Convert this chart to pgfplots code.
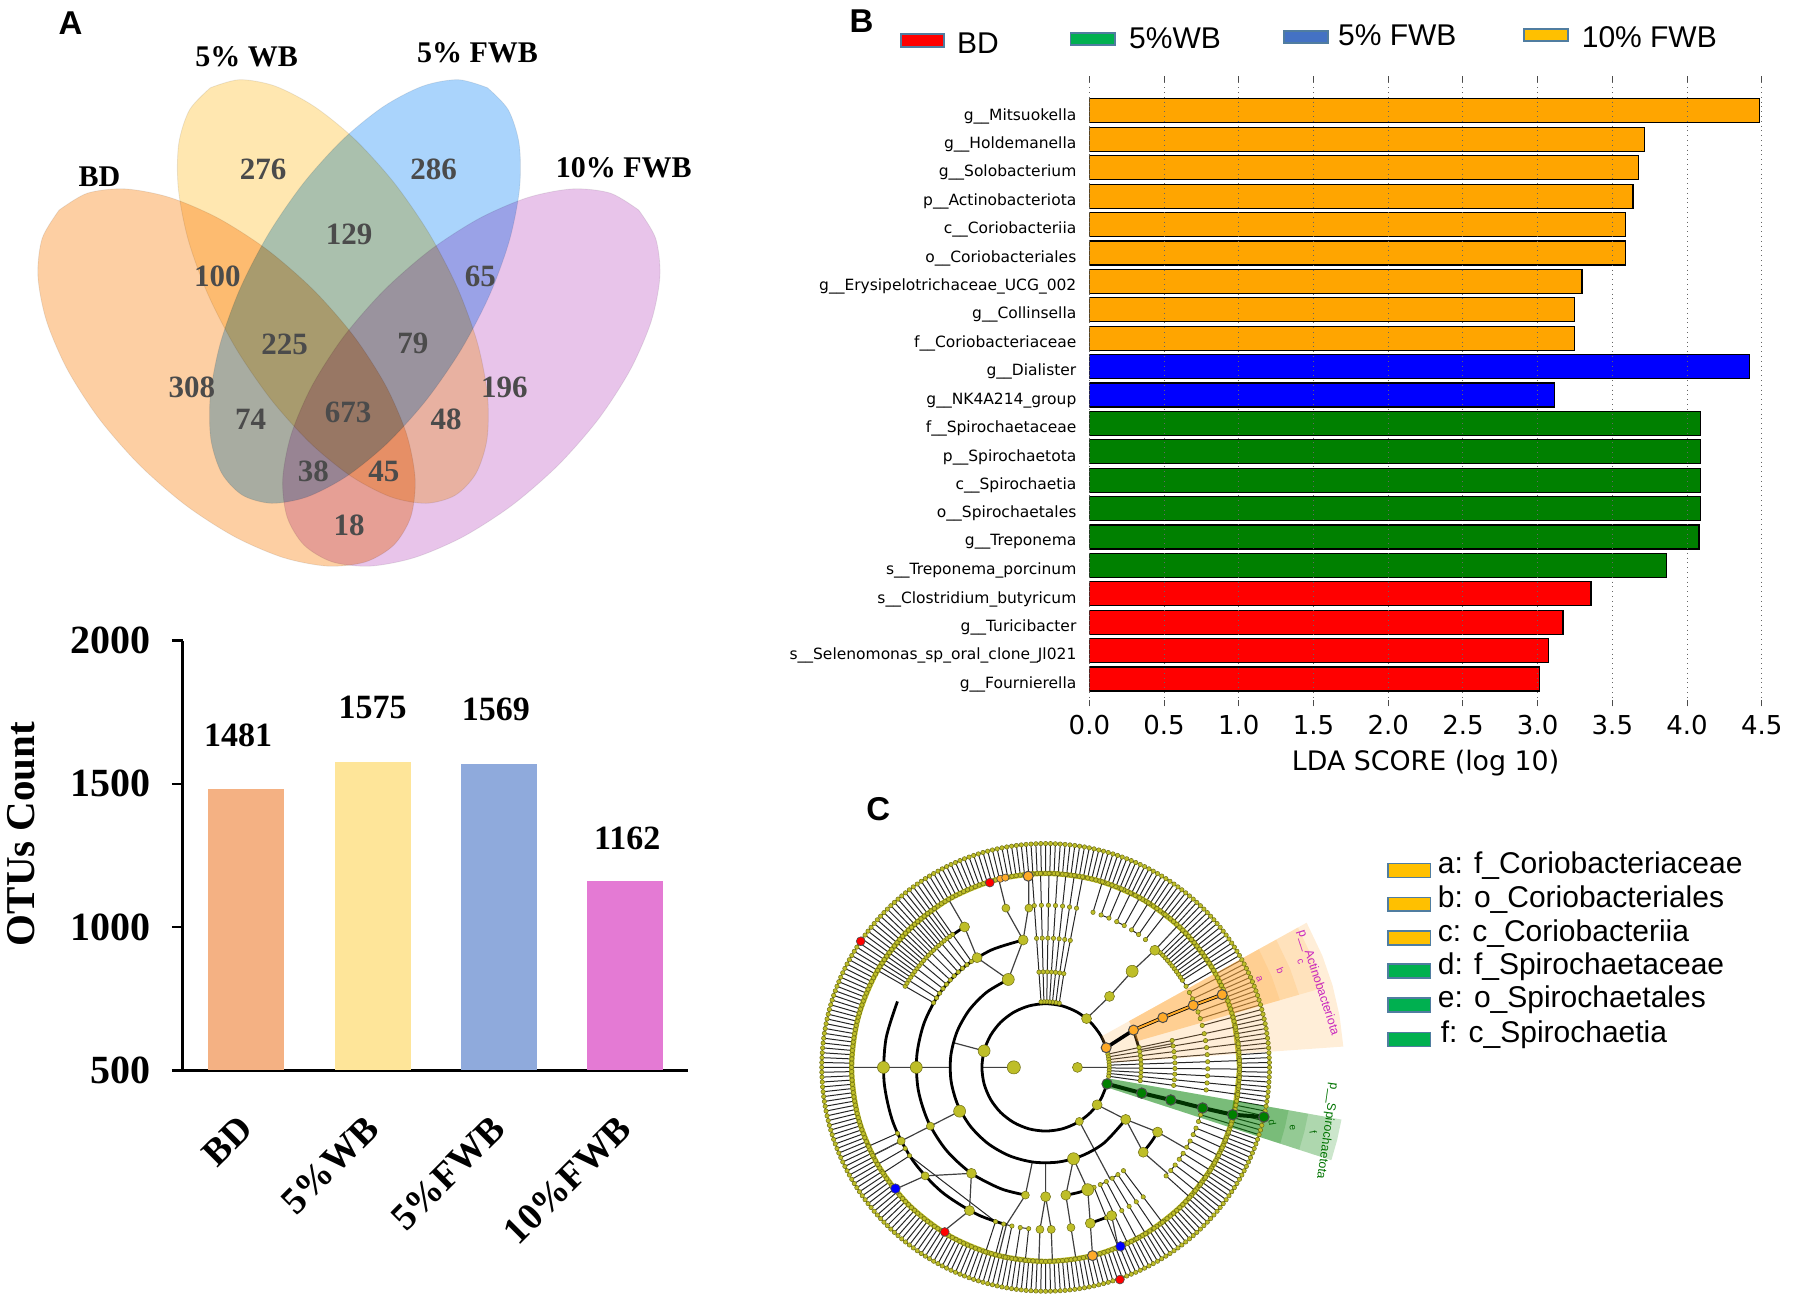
\documentclass[border=0pt]{standalone}
\usepackage{fontspec}
\usepackage{pgfplots}
\usepackage{pgfplotstable}
\pgfplotsset{compat=1.18}
\setmainfont{Liberation Sans}
\newfontfamily\timesf{Liberation Serif}
\newfontfamily\dejavu{DejaVu Sans}
\newcommand\sz[1]{\fontsize{#1}{#1}\selectfont}

\definecolor{vbd}{RGB}{253,207,163}
\definecolor{vwb}{RGB}{255,231,176}
\definecolor{vfwb}{RGB}{170,212,252}
\definecolor{vten}{RGB}{232,196,234}
\definecolor{vnum}{RGB}{75,75,75}
\definecolor{barbd}{RGB}{244,177,131}
\definecolor{barwb}{RGB}{254,229,153}
\definecolor{barfwb}{RGB}{143,170,220}
\definecolor{barten}{RGB}{228,122,212}
\definecolor{ldao}{RGB}{255,165,0}
\definecolor{ldab}{RGB}{0,0,255}
\definecolor{ldag}{RGB}{0,128,0}
\definecolor{ldar}{RGB}{255,0,0}
\definecolor{legy}{RGB}{255,192,0}
\definecolor{legg}{RGB}{0,176,80}
\definecolor{legblue}{RGB}{68,114,196}
\definecolor{legb}{RGB}{80,125,160}
\definecolor{leaf}{RGB}{190,190,40}
\definecolor{leafd}{RGB}{110,110,20}
\definecolor{wedge}{RGB}{255,170,60}
\definecolor{hlor}{RGB}{255,170,40}
\definecolor{cladem}{RGB}{200,40,190}

% outlines of the two petal shapes
\pgfplotstableread{
x y
211.5 88.2
240.8 80.1
276.4 86.5
316 107.1
356.8 140.2
396.2 183.8
431.4 234.8
460 289.8
480 345
490 396.7
489.6 441.3
478.6 475.7
457.7 497.8
428.4 505.9
392.8 499.5
353.2 478.9
312.4 445.8
273 402.2
237.8 351.2
209.2 296.2
189.2 241
179.2 189.3
179.6 144.7
190.6 110.3
211.5 88.2
}\innerpetal
\pgfplotstableread{
x y
59.4 211.2
87.8 194.2
125.8 189.9
170.7 198.5
219.4 219.4
268.8 251.2
315.4 291.8
356 338.4
387.8 387.8
408.7 436.5
417.3 481.4
413 519.4
396 547.8
367.6 564.8
329.6 569.1
284.7 560.5
236 539.6
186.6 507.8
140 467.2
99.4 420.6
67.6 371.2
46.7 322.5
38.1 277.6
42.4 239.6
59.4 211.2
}\outerpetal

\newcommand\swatch[6]{\addplot[fill=#1,draw=#2,line width=.8pt] coordinates {(#3,#4)(#5,#4)(#5,#6)(#3,#6)} --cycle;}

\begin{document}
\begin{tikzpicture}
\useasboundingbox (0,0) rectangle (897pt,649.5pt);

% page-sized axis: venn, legends, panel letters
\begin{axis}[at={(0,0)},anchor=south west,scale only axis,width=897pt,height=649.5pt,
  xmin=0,xmax=1803.4,ymin=0,ymax=1305.8,y dir=reverse,hide axis,clip=false]
\addplot[fill=vbd,draw=black!8,line width=.4pt,smooth,blend mode=multiply] table[x=x,y=y] {\outerpetal};
\addplot[fill=vwb,draw=black!8,line width=.4pt,smooth,blend mode=multiply] table[x=x,y=y] {\innerpetal};
\addplot[fill=vfwb,draw=black!8,line width=.4pt,smooth,blend mode=multiply] table[x expr=701.5-\thisrow{x},y=y] {\innerpetal};
\addplot[fill=vten,draw=black!8,line width=.4pt,smooth,blend mode=multiply] table[x expr=701.5-\thisrow{x},y=y] {\outerpetal};

\foreach \n/\x/\y in {276/264.5/170,286/436/170,129/351/236,100/218.5/278,65/483/278,225/286/346,79/415/345,308/193/389,196/507/389,74/252/422,673/350/415,48/448.5/422,38/315/474,45/386/474,18/351/528}{
  \edef\tmp{\noexpand\node[text=vnum,font=\noexpand\timesf\noexpand\bfseries\noexpand\sz{15.5}] at (axis cs:\x,\y) {\n};}\tmp
}
\node[font=\timesf\bfseries\sz{15}] at (axis cs:100,178) {BD};
\node[font=\timesf\bfseries\sz{15}] at (axis cs:248,57) {5\% WB};
\node[font=\timesf\bfseries\sz{15}] at (axis cs:480,53) {5\% FWB};
\node[font=\timesf\bfseries\sz{15}] at (axis cs:627,169) {10\% FWB};

\node[font=\bfseries\sz{16.5}] at (axis cs:71,23) {A};
\node[font=\bfseries\sz{16.5}] at (axis cs:866,21) {B};
\node[font=\bfseries\sz{16.5}] at (axis cs:883,813) {C};

\swatch{ldar}{legb}{906}{34}{949}{47}
\swatch{legg}{legb}{1076}{33}{1121}{45}
\swatch{legblue}{legb}{1291}{31}{1335}{43}
\swatch{legy}{legb}{1532}{29}{1576}{41}
\node[anchor=west,font=\sz{15}] at (axis cs:955,43) {BD};
\node[anchor=west,font=\sz{15}] at (axis cs:1128,38) {5\%WB};
\node[anchor=west,font=\sz{15}] at (axis cs:1338,35) {5\% FWB};
\node[anchor=west,font=\sz{15}] at (axis cs:1583,37) {10\% FWB};

\swatch{legy}{legb}{1395}{868}{1438}{882}
\swatch{legy}{legb}{1395}{902}{1438}{916}
\swatch{legy}{legb}{1395}{936}{1438}{950}
\swatch{legg}{legb}{1395}{969}{1438}{983}
\swatch{legg}{legb}{1395}{1003}{1438}{1017}
\swatch{legg}{legb}{1395}{1038}{1438}{1052}
\node[anchor=west,inner sep=0pt,font=\sz{15}] at (axis cs:1445,870) {a: f\_Coriobacteriaceae};
\node[anchor=west,inner sep=0pt,font=\sz{15}] at (axis cs:1445,904) {b: o\_Coriobacteriales};
\node[anchor=west,inner sep=0pt,font=\sz{15}] at (axis cs:1445,938) {c: c\_Coriobacteriia};
\node[anchor=west,inner sep=0pt,font=\sz{15}] at (axis cs:1445,972) {d: f\_Spirochaetaceae};
\node[anchor=west,inner sep=0pt,font=\sz{15}] at (axis cs:1445,1005) {e: o\_Spirochaetales};
\node[anchor=west,inner sep=0pt,font=\sz{15}] at (axis cs:1448,1040) {f: c\_Spirochaetia};
\end{axis}

% OTU count bars
\begin{axis}[at={(91.5pt,114.3pt)},anchor=south west,scale only axis,width=252.7pt,height=214.9pt,
  xmin=-0.5,xmax=3.5,ymin=500,ymax=2000,
  axis lines=left,axis line style={-,line width=1.5pt},
  ybar,bar width=38pt,bar shift=0pt,
  xtick={0,1,2,3},xticklabels={BD,5\%WB,5\%FWB,10\%FWB},
  ytick={500,1000,1500,2000},
  /pgf/number format/assume math mode=true,/pgf/number format/1000 sep={},
  tick align=outside,major tick length=5.5pt,
  ytick style={line width=1.2pt,black},xtick style={draw=none},
  yticklabel style={xshift=-7pt,font=\timesf\bfseries\sz{20}},
  xticklabel style={rotate=45,anchor=north east,yshift=-4.5pt,xshift=-11pt,font=\timesf\bfseries\sz{19}},
  ylabel={OTUs Count},
  ylabel style={at={(axis description cs:-0.32,0.55)},anchor=center,font=\timesf\bfseries\sz{20.5}},
  nodes near coords,
  every node near coord/.append style={font=\timesf\bfseries\sz{17}},
  point meta=explicit symbolic]
\addplot[fill=barbd,draw=none,every node near coord/.append style={xshift=-4pt,yshift=17.5pt}] coordinates {(0,1481)[1481]};
\addplot[fill=barwb,draw=none,every node near coord/.append style={yshift=18pt}] coordinates {(1,1575)[1575]};
\addplot[fill=barfwb,draw=none,every node near coord/.append style={xshift=-1.5pt,yshift=18pt}] coordinates {(2,1569)[1569]};
\addplot[fill=barten,draw=none,every node near coord/.append style={xshift=1pt,yshift=12pt}] coordinates {(3,1162)[1162]};
\end{axis}

% LDA scores
\begin{axis}[at={(544.7pt,299.35pt)},anchor=south west,scale only axis,width=336.2pt,height=308.9pt,
  xmin=0,xmax=4.5,ymin=0,ymax=21.75,y dir=reverse,
  xbar,bar width=12pt,bar shift=0pt,
  axis line style={draw=none},axis on top,
  xtick={0,0.5,...,4.5},
  xticklabels={0.0,0.5,1.0,1.5,2.0,2.5,3.0,3.5,4.0,4.5},
  ytick={1,...,21},
  yticklabels={g\_\_Mitsuokella,g\_\_Holdemanella,g\_\_Solobacterium,p\_\_Actinobacteriota,c\_\_Coriobacteriia,o\_\_Coriobacteriales,g\_\_Erysipelotrichaceae\_UCG\_002,g\_\_Collinsella,f\_\_Coriobacteriaceae,g\_\_Dialister,g\_\_NK4A214\_group,f\_\_Spirochaetaceae,p\_\_Spirochaetota,c\_\_Spirochaetia,o\_\_Spirochaetales,g\_\_Treponema,s\_\_Treponema\_porcinum,s\_\_Clostridium\_butyricum,g\_\_Turicibacter,s\_\_Selenomonas\_sp\_oral\_clone\_Jl021,g\_\_Fournierella},
  xmajorgrids,grid style={dotted,black!60,line width=.5pt},
  xtick pos=both,tick align=outside,major tick length=3pt,
  ytick style={draw=none},xtick style={black!70,line width=.5pt},
  xticklabel pos=bottom,
  yticklabel style={font=\dejavu\sz{7.75},yshift=-2.6pt},
  xticklabel style={font=\dejavu\sz{13},yshift=-1pt},
  /pgf/number format/assume math mode=true,
  xlabel={LDA SCORE (log 10)},
  xlabel style={font=\dejavu\sz{13.4},yshift=-.5pt}]
\addplot[fill=ldao,draw=black,line width=.6pt] coordinates {(4.483,1)(3.716,2)(3.677,3)(3.638,4)(3.586,5)(3.586,6)(3.296,7)(3.248,8)(3.248,9)};
\addplot[fill=ldab,draw=black,line width=.6pt] coordinates {(4.418,10)(3.114,11)};
\addplot[fill=ldag,draw=black,line width=.6pt] coordinates {(4.089,12)(4.089,13)(4.089,14)(4.089,15)(4.08,16)(3.863,17)};
\addplot[fill=ldar,draw=black,line width=.6pt] coordinates {(3.357,18)(3.17,19)(3.07,20)(3.014,21)};
\end{axis}

% cladogram, polar data: angle in degrees, radius
\begin{axis}[at={(522.8pt,115.8pt)},anchor=center,scale only axis,width=348.2pt,height=348.2pt,
  xmin=-350,xmax=350,ymin=-350,ymax=350,hide axis,clip=false,data cs=polar,
  leafline/.style={black!85,line width=.5pt,mark=*,mark size=1.1pt,mark options={solid,fill=leaf,draw=leafd,line width=.25pt}},
  branch/.style={black!75,line width=.6pt},
  arc/.style={black,line width=1.4pt,smooth},
  bignode/.style={only marks,mark=*,mark options={fill=leaf,draw=leafd,line width=.25pt}}]

% outer spokes
\addplot[leafline] coordinates {
(0,195)(0,225)(2.5,225)(2.5,195)(5,195)(5,225)(7.5,225)(7.5,195)(10,195)(10,225)(12.5,225)(12.5,195)
(15,195)(15,225)(17.5,225)(17.5,195)(20,195)(20,225)(22.5,225)(22.5,195)(25,195)(25,225)(27.5,225)(27.5,195)
(30,195)(30,225)(32.5,225)(32.5,195)(35,195)(35,225)(37.5,225)(37.5,195)(40,195)(40,225)(42.5,225)(42.5,195)
(45,195)(45,225)(47.5,225)(47.5,195)(50,195)(50,225)(52.5,225)(52.5,195)(55,195)(55,225)(57.5,225)(57.5,195)
(60,195)(60,225)(62.5,225)(62.5,195)(65,195)(65,225)(67.5,225)(67.5,195)(70,195)(70,225)(72.5,225)(72.5,195)
(75,195)(75,225)(77.5,225)(77.5,195)(80,195)(80,225)(82.5,225)(82.5,195)(85,195)(85,225)(87.5,225)(87.5,195)
(90,195)(90,225)(92.5,225)(92.5,195)(95,195)(95,225)(97.5,225)(97.5,195)(100,195)(100,225)(102.5,225)(102.5,195)
(105,195)(105,225)(107.5,225)(107.5,195)(110,195)(110,225)(112.5,225)(112.5,195)(115,195)(115,225)(117.5,225)(117.5,195)
(120,195)(120,225)(122.5,225)(122.5,195)(125,195)(125,225)(127.5,225)(127.5,195)(130,195)(130,225)(132.5,225)(132.5,195)
(135,195)(135,225)(137.5,225)(137.5,195)(140,195)(140,225)(142.5,225)(142.5,195)(145,195)(145,225)(147.5,225)(147.5,195)
(150,195)(150,225)(152.5,225)(152.5,195)(155,195)(155,225)(157.5,225)(157.5,195)(160,195)(160,225)(162.5,225)(162.5,195)
(165,195)(165,225)(167.5,225)(167.5,195)(170,195)(170,225)(172.5,225)(172.5,195)(175,195)(175,225)(177.5,225)(177.5,195)
(180,195)(180,225)(182.5,225)(182.5,195)(185,195)(185,225)(187.5,225)(187.5,195)(190,195)(190,225)(192.5,225)(192.5,195)
(195,195)(195,225)(197.5,225)(197.5,195)(200,195)(200,225)(202.5,225)(202.5,195)(205,195)(205,225)(207.5,225)(207.5,195)
(210,195)(210,225)(212.5,225)(212.5,195)(215,195)(215,225)(217.5,225)(217.5,195)(220,195)(220,225)(222.5,225)(222.5,195)
(225,195)(225,225)(227.5,225)(227.5,195)(230,195)(230,225)(232.5,225)(232.5,195)(235,195)(235,225)(237.5,225)(237.5,195)
(240,195)(240,225)(242.5,225)(242.5,195)(245,195)(245,225)(247.5,225)(247.5,195)(250,195)(250,225)(252.5,225)(252.5,195)
(255,195)(255,225)(257.5,225)(257.5,195)(260,195)(260,225)(262.5,225)(262.5,195)(265,195)(265,225)(267.5,225)(267.5,195)
(270,195)(270,225)(272.5,225)(272.5,195)(275,195)(275,225)(277.5,225)(277.5,195)(280,195)(280,225)(282.5,225)(282.5,195)
(285,195)(285,225)(287.5,225)(287.5,195)(290,195)(290,225)(292.5,225)(292.5,195)(295,195)(295,225)(297.5,225)(297.5,195)
(300,195)(300,225)(302.5,225)(302.5,195)(305,195)(305,225)(307.5,225)(307.5,195)(310,195)(310,225)(312.5,225)(312.5,195)
(315,195)(315,225)(317.5,225)(317.5,195)(320,195)(320,225)(322.5,225)(322.5,195)(325,195)(325,225)(327.5,225)(327.5,195)
(330,195)(330,225)(332.5,225)(332.5,195)(335,195)(335,225)(337.5,225)(337.5,195)(340,195)(340,225)(342.5,225)(342.5,195)
(345,195)(345,225)(347.5,225)(347.5,195)(350,195)(350,225)(352.5,225)(352.5,195)(355,195)(355,225)(357.5,225)(357.5,195)
};
\addplot[leafline] coordinates {
(1.25,195)(1.25,225)(3.75,225)(3.75,195)(6.25,195)(6.25,225)(8.75,225)(8.75,195)(11.25,195)(11.25,225)(13.75,225)(13.75,195)
(16.25,195)(16.25,225)(18.75,225)(18.75,195)(21.25,195)(21.25,225)(23.75,225)(23.75,195)(26.25,195)(26.25,225)(28.75,225)(28.75,195)
(31.25,195)(31.25,225)(33.75,225)(33.75,195)(36.25,195)(36.25,225)(38.75,225)(38.75,195)(41.25,195)(41.25,225)(43.75,225)(43.75,195)
(46.25,195)(46.25,225)(48.75,225)(48.75,195)(51.25,195)(51.25,225)(53.75,225)(53.75,195)(56.25,195)(56.25,225)(58.75,225)(58.75,195)
(61.25,195)(61.25,225)(63.75,225)(63.75,195)(66.25,195)(66.25,225)(68.75,225)(68.75,195)(71.25,195)(71.25,225)(73.75,225)(73.75,195)
(76.25,195)(76.25,225)(78.75,225)(78.75,195)(81.25,195)(81.25,225)(83.75,225)(83.75,195)(86.25,195)(86.25,225)(88.75,225)(88.75,195)
(91.25,195)(91.25,225)(93.75,225)(93.75,195)(96.25,195)(96.25,225)(98.75,225)(98.75,195)(101.25,195)(101.25,225)(103.75,225)(103.75,195)
(106.25,195)(106.25,225)(108.75,225)(108.75,195)(111.25,195)(111.25,225)(113.75,225)(113.75,195)(116.25,195)(116.25,225)(118.75,225)(118.75,195)
(121.25,195)(121.25,225)(123.75,225)(123.75,195)(126.25,195)(126.25,225)(128.75,225)(128.75,195)(131.25,195)(131.25,225)(133.75,225)(133.75,195)
(136.25,195)(136.25,225)(138.75,225)(138.75,195)(141.25,195)(141.25,225)(143.75,225)(143.75,195)(146.25,195)(146.25,225)(148.75,225)(148.75,195)
(151.25,195)(151.25,225)(153.75,225)(153.75,195)(156.25,195)(156.25,225)(158.75,225)(158.75,195)(161.25,195)(161.25,225)(163.75,225)(163.75,195)
(166.25,195)(166.25,225)(168.75,225)(168.75,195)(171.25,195)(171.25,225)(173.75,225)(173.75,195)(176.25,195)(176.25,225)(178.75,225)(178.75,195)
(181.25,195)(181.25,225)(183.75,225)(183.75,195)(186.25,195)(186.25,225)(188.75,225)(188.75,195)(191.25,195)(191.25,225)(193.75,225)(193.75,195)
(196.25,195)(196.25,225)(198.75,225)(198.75,195)(201.25,195)(201.25,225)(203.75,225)(203.75,195)(206.25,195)(206.25,225)(208.75,225)(208.75,195)
(211.25,195)(211.25,225)(213.75,225)(213.75,195)(216.25,195)(216.25,225)(218.75,225)(218.75,195)(221.25,195)(221.25,225)(223.75,225)(223.75,195)
(226.25,195)(226.25,225)(228.75,225)(228.75,195)(231.25,195)(231.25,225)(233.75,225)(233.75,195)(236.25,195)(236.25,225)(238.75,225)(238.75,195)
(241.25,195)(241.25,225)(243.75,225)(243.75,195)(246.25,195)(246.25,225)(248.75,225)(248.75,195)(251.25,195)(251.25,225)(253.75,225)(253.75,195)
(256.25,195)(256.25,225)(258.75,225)(258.75,195)(261.25,195)(261.25,225)(263.75,225)(263.75,195)(266.25,195)(266.25,225)(268.75,225)(268.75,195)
(271.25,195)(271.25,225)(273.75,225)(273.75,195)(276.25,195)(276.25,225)(278.75,225)(278.75,195)(281.25,195)(281.25,225)(283.75,225)(283.75,195)
(286.25,195)(286.25,225)(288.75,225)(288.75,195)(291.25,195)(291.25,225)(293.75,225)(293.75,195)(296.25,195)(296.25,225)(298.75,225)(298.75,195)
(301.25,195)(301.25,225)(303.75,225)(303.75,195)(306.25,195)(306.25,225)(308.75,225)(308.75,195)(311.25,195)(311.25,225)(313.75,225)(313.75,195)
(316.25,195)(316.25,225)(318.75,225)(318.75,195)(321.25,195)(321.25,225)(323.75,225)(323.75,195)(326.25,195)(326.25,225)(328.75,225)(328.75,195)
(331.25,195)(331.25,225)(333.75,225)(333.75,195)(336.25,195)(336.25,225)(338.75,225)(338.75,195)(341.25,195)(341.25,225)(343.75,225)(343.75,195)
(346.25,195)(346.25,225)(348.75,225)(348.75,195)(351.25,195)(351.25,225)(353.75,225)(353.75,195)(356.25,195)(356.25,225)(358.75,225)(358.75,195)
};
% ring that the leaves sit on, over the spoke ends
\addplot[leaf,line width=2.6pt,smooth] coordinates {(0,195)(15,195)(30,195)(45,195)(60,195)(75,195)(90,195)(105,195)(120,195)(135,195)(150,195)(165,195)(180,195)(195,195)(210,195)(225,195)(240,195)(255,195)(270,195)(285,195)(300,195)(315,195)(330,195)(345,195)(360,195)};

% inner groups of leaves
\addplot[leafline] coordinates {
(12,64)(12,96)(12,130)(12,163)(12,195)(9.5,195)(9.5,163)(9.5,130)(9.5,96)(9.5,64)
(7,64)(7,96)(7,130)(7,163)(7,195)(4.5,195)(4.5,163)(4.5,130)(4.5,96)(4.5,64)
(2,64)(2,96)(2,130)(2,163)(2,195)(-0.5,195)(-0.5,163)(-0.5,130)(-0.5,96)(-0.5,64)
(-3,64)(-3,96)(-3,130)(-3,163)(-3,195)(-5.5,195)(-5.5,163)(-5.5,130)(-5.5,96)(-5.5,64)
(-8,64)(-8,96)(-8,130)(-8,163)(-8,195)};
\addplot[leafline] coordinates {
(78,66)(79,96)(79,130)(79,163)(79,195)(81.5,195)(81.5,163)(81.5,130)(81.5,96)(81,66)
(84,66)(84,96)(84,130)(84,163)(84,195)(86.5,195)(86.5,163)(86.5,130)(86.5,96)(86.5,66)
(89,66)(89,96)(89,130)(89,163)(89,195)(91.5,195)(91.5,163)(91.5,130)(91.5,96)(91.5,66)
(94,66)(94,96)(94,130)(94,163)(94,195)};
\addplot[leafline] coordinates {
(125,130)(125,163)(125,195)(127.5,195)(127.5,163)(127.5,130)(130,130)(130,163)(130,195)(132.5,195)(132.5,163)(132.5,130)
(135,130)(135,163)(135,195)(137.5,195)(137.5,163)(137.5,130)(140,130)(140,163)(140,195)(142.5,195)(142.5,163)(142.5,130)
(145,130)(145,163)(145,195)(147.5,195)(147.5,163)(147.5,130)(150,130)(150,163)(150,195)};
\addplot[leafline] coordinates {
(126.25,163)(126.25,195)(128.75,195)(128.75,163)(131.25,163)(131.25,195)(133.75,195)(133.75,163)(136.25,163)(136.25,195)
(138.75,195)(138.75,163)(141.25,163)(141.25,195)(143.75,195)(143.75,163)(146.25,163)(146.25,195)(148.75,195)(148.75,163)};
\addplot[leafline] coordinates {
(292,130)(292,163)(292,195)(295,195)(295,163)(295,130)(298,130)(298,163)(298,195)(301,195)(301,163)(301,130)
(304,130)(304,163)(304,195)(307,195)(307,163)(307,130)};
\addplot[leafline] coordinates {
(318,163)(318,195)(320.5,195)(320.5,163)(323,163)(323,195)(325.5,195)(325.5,163)(328,163)(328,195)(330.5,195)(330.5,163)
(333,163)(333,195)(335.5,195)(335.5,163)(338,163)(338,195)(340.5,195)(340.5,163)(343,163)(343,195)};
\addplot[leafline] coordinates {
(15,163)(15,195)(17.5,195)(17.5,163)(20,163)(20,195)(25,195)(25,163)(27.5,163)(27.5,195)(30,195)(30,163)
(32.5,163)(32.5,195)(35,195)(35,163)(37.5,163)(37.5,195)(40,195)(40,163)(42.5,163)(42.5,195)(45,195)(45,163)};
\addplot[leafline] coordinates {
(33.75,163)(33.75,195)(36.25,195)(36.25,163)(38.75,163)(38.75,195)(41.25,195)(41.25,163)(43.75,163)(43.75,195)};
\addplot[leafline] coordinates {
(52,163)(52,195)(55,195)(55,163)(58,163)(58,195)(61,195)(61,163)(64,163)(64,195)(67,195)(67,163)(70,163)(70,195)(73,195)(73,163)};
\addplot[leafline] coordinates {
(204,163)(204,195)(207,195)(207,163)(210,163)(210,195)(213,195)(213,163)
(252,163)(252,195)(255,195)(255,163)(258,163)(258,195)(261,195)(261,163)(264,163)(264,195)};

% thin branches between the ranks
\addplot[branch] table[header=false,x index=0,y index=1] {
180 32
180 64

0 32
0 64

165 64
165 96

50 64
48 96
48 130

113 96
122 130

113 96
100 130

180 96
180 130
180 163
180 195

207 96
207 130
207 195

287 96
279 130

287 96
289 130

262 96
261 130

270 96
270 130

235 130
222 163
219 195

235 130
242 163
238 195

261 130
256 163
256 195

270 130
268 163
268 195

270 130
272 163
272 195

279 130
279 163
279 195

289 130
286 163
284 195

294 163
292 195

327 96
330 130
330 163

327 96
319 130
319 163

122 130
120 163
120 195

100 130
104 163
104 195

100 130
96 163
95 195

48 130
47 163
47 195

302 64
300 130

324 64
327 96

10.6 96
10.6 130
};

% thick arcs joining the ranks
\addplot[arc] coordinates {(18,64)(30,64)(45,64)(60,64)(75,64)(90,64)(105,64)(120,64)(135,64)(150,64)(165,64)(180,64)(195,64)(210,64)(225,64)(240,64)(255,64)(270,64)(285,64)(300,64)(315,64)(330,64)(345,64)};
\addplot[arc] coordinates {(113,96)(128,96)(143,96)(158,96)(173,96)(188,96)(203,96)(218,96)(233,96)(248,96)(263,96)(278,96)(293,96)(308,96)(327,96)};
\addplot[arc] coordinates {(100,130)(115,130)(130,130)(145,130)(160,130)(175,130)(190,130)(205,130)(220,130)(235,130)(250,130)(262,130)};
\addplot[arc] coordinates {(279,130)(284,130)(289,130)};
\addplot[arc] coordinates {(319,130)(325,130)(330,130)};
\addplot[arc] coordinates {(121,163)(130,163)(139,163)};
\addplot[arc] coordinates {(156,163)(170,163)(185,163)(200,163)(215,163)(230,163)(245,163)(256,163)};
\addplot[arc] coordinates {(40,163)(47,163)};
\addplot[arc] coordinates {(286,163)(294,163)};
\addplot[arc] coordinates {(10.6,96)(23,96)};

% large taxon nodes
\addplot[bignode,mark size=3.3pt] coordinates {(180,32)};
\addplot[bignode,mark size=3pt] coordinates {(165,64)(180,130)(180,163)(207,97)(48,130)(113,96)(287,96)(289,130)};
\addplot[bignode,mark size=2.5pt] coordinates {(0,32)(50,64)(324,64)(48,96)(327,96)(100,130)(122,130)(235,130)(270,130)(279,130)(330,130)(47,161)(120,163)(242,163)(286,163)(294,163)(319,130)};
\addplot[bignode,mark size=2pt] coordinates {(302,64)(261,130)(222,163)(104,165)(96,161)(268,163)(272,163)(279,163)(207,130)(207,163)};

% clade shading
\addplot[fill=wedge,fill opacity=.2,draw=none] coordinates {(4,64)(29,64)(29,300)(22,300)(16,300)(10,300)(4,300)} --cycle;
\addplot[fill=wedge,fill opacity=.18,draw=none] coordinates {(16,96)(29,96)(29,290)(22,290)(16,290)} --cycle;
\addplot[fill=wedge,fill opacity=.18,draw=none] coordinates {(16,96)(29,96)(29,265)(22,265)(16,265)} --cycle;
\addplot[fill=wedge,fill opacity=.18,draw=none] coordinates {(16,96)(29,96)(29,245)(22,245)(16,245)} --cycle;
\addplot[fill=ldag,fill opacity=.2,draw=none] coordinates {(-10,64)(-18,64)(-18,302)(-14,302)(-10,302)} --cycle;
\addplot[fill=ldag,fill opacity=.15,draw=none] coordinates {(-10,64)(-18,64)(-18,290)(-14,290)(-10,290)} --cycle;
\addplot[fill=ldag,fill opacity=.15,draw=none] coordinates {(-10,64)(-18,64)(-18,268)(-14,268)(-10,268)} --cycle;
\addplot[fill=ldag,fill opacity=.18,draw=none] coordinates {(-10,64)(-18,64)(-18,248)(-14,248)(-10,248)} --cycle;

% enriched clades
\addplot[black,line width=1.8pt] coordinates {(18,64)(23,96)(23,128)(22.8,161)(22.4,192)};
\addplot[hlor,line width=1pt] coordinates {(23,96)(23,128)(22.8,161)(22.4,192)};
\addplot[only marks,mark=*,mark size=2.5pt,mark options={fill=hlor,draw=black!70,line width=.5pt}] coordinates {(18,64)(23,96)(23,128)(22.8,161)(22.4,192)(95.2,193)(284,195)};
\addplot[only marks,mark=*,mark size=1.8pt,mark options={fill=hlor,draw=black!70,line width=.3pt}] coordinates {(103.5,195)(102,195)};
\addplot[black!60!ldag,line width=2pt] coordinates {(-15,64)(-15,100)(-14.6,130)(-14.5,163)(-14.2,194)(-12.8,225)};
\addplot[only marks,mark=*,mark size=2.6pt,mark options={fill=ldag,draw=black!70,line width=.5pt}] coordinates {(-15,64)(-15,100)(-14.6,130)(-14.5,163)(-14.2,194)(-12.8,225)};
\addplot[only marks,mark=*,mark size=2.2pt,mark options={fill=ldar,draw=black!70,line width=.3pt}] coordinates {(106.8,194)(145.7,225)(238.5,194)(289.3,226)};
\addplot[only marks,mark=*,mark size=2.4pt,mark options={fill=ldab,draw=black!70,line width=.3pt}] coordinates {(218.9,194)(292.7,195)};

% clade names and letters
\node[text=cladem,rotate=-72,font=\sz{6.2}] at (axis cs:274,85) {p\_\_Actinobacteriota};
\node[text=black!55!green,rotate=-98,font=\sz{6.2}] at (axis cs:283,-64) {p\_\_Spirochaetota};
\node[text=cladem,rotate=-67,font=\sz{5}] at (axis cs:215,89) {a};
\node[text=cladem,rotate=-67,font=\sz{5}] at (axis cs:236,97) {b};
\node[text=cladem,rotate=-67,font=\sz{5}] at (axis cs:256,106) {c};
\node[text=black!60!green,rotate=-80,font=\sz{5}] at (axis cs:228,-56) {d};
\node[text=black!60!green,rotate=-80,font=\sz{5}] at (axis cs:248,-61) {e};
\node[text=black!60!green,rotate=-80,font=\sz{5}] at (axis cs:269,-65) {f};
\end{axis}
\end{tikzpicture}
\end{document}
